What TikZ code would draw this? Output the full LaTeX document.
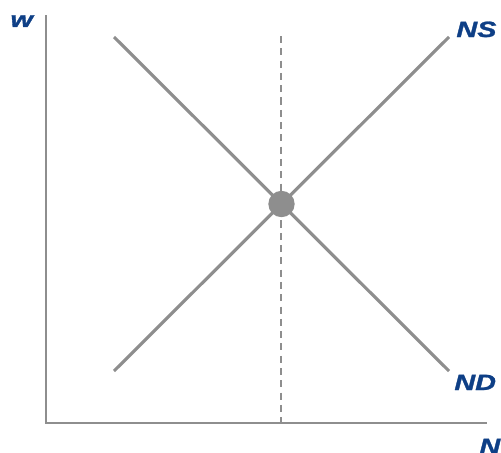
\documentclass[tikz,border=0pt]{standalone}
\usepackage{fontspec}
\setmainfont{Liberation Sans}
\newfontfamily\lblfont{Liberation Sans Bold Italic}[FakeBold=1.2]
\definecolor{curvegray}{HTML}{8E8E8E}
\definecolor{labelblue}{HTML}{0E3F86}
\begin{document}
\begin{tikzpicture}[x=0.02cm, y=-0.02cm,
    axis/.style={draw=curvegray, line width=1.6pt},
    curve/.style={draw=curvegray, line width=1.8pt},
    guide/.style={draw=curvegray, line width=1.2pt, dash pattern=on 4pt off 3pt},
    lbl/.style={font=\fontsize{12.6}{14}\lblfont, text=labelblue, inner sep=0pt, xscale=1.3, transform shape},
]
\useasboundingbox (0,0) rectangle (501,453);
% axes
\coordinate (O) at (46,423);
\coordinate (ytop) at (46,15);
\coordinate (xend) at (487,423);
\draw[axis] (ytop) -- (O) -- (xend);
% supply and demand
\coordinate (ns0) at (114,371);
\coordinate (ns1) at (449,37);
\coordinate (nd0) at (114,37);
\coordinate (nd1) at (449,371);
\draw[curve] (ns0) -- (ns1);
\draw[curve] (nd0) -- (nd1);
% equilibrium
\coordinate (qtop) at (281,36);
\coordinate (qbot) at (281,423);
\draw[guide] (qtop) -- (qbot);
\node[circle, fill=curvegray, minimum size=15pt, inner sep=0pt] (E) at (281.5,204) {};
% labels
\node[lbl, anchor=base west] (w) at (10,27) {w};
\node[lbl, anchor=base west] (NS) at (456,37) {NS};
\node[lbl, anchor=base west] (ND) at (454,390) {ND};
\node[lbl, anchor=base west] (N) at (479,454) {N};
\end{tikzpicture}
\end{document}
